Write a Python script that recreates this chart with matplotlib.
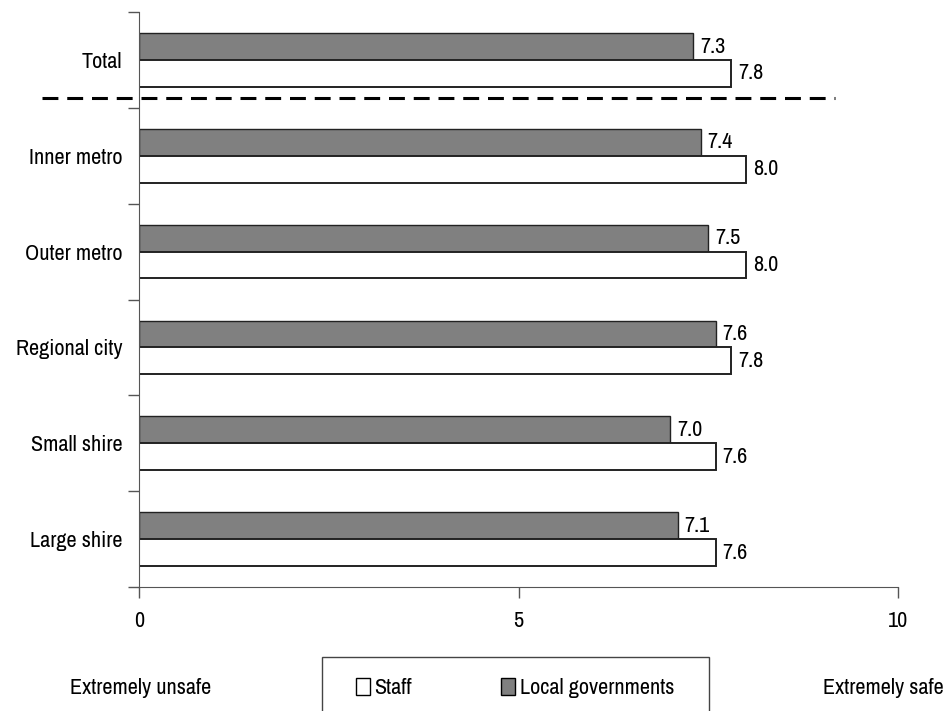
import matplotlib
matplotlib.use("Agg")
import matplotlib.pyplot as plt
from matplotlib.patches import Patch, Rectangle

# narrow sans, with a plain fallback
plt.rcParams['font.family'] = ['Archivo Narrow', 'Liberation Sans', 'DejaVu Sans']

# data
categories = ["Total", "Inner metro", "Outer metro", "Regional city", "Small shire", "Large shire"]
local_gov = [7.3, 7.4, 7.5, 7.6, 7.0, 7.1]
staff = [7.8, 8.0, 8.0, 7.8, 7.6, 7.6]
xticks = [0, 5, 10]

fig = plt.figure(figsize=(9.48, 7.11), dpi=100)
ax = fig.add_axes([0.1466, 0.1744, 0.8007, 0.8087])

n = len(categories)
ypos = [n - 1 - i for i in range(n)]
h = 0.28
fs = 16

ax.barh([y + h / 2 for y in ypos], local_gov, height=h, color="#808080",
        edgecolor="#222222", linewidth=1.0)
ax.barh([y - h / 2 for y in ypos], staff, height=h, color="white",
        edgecolor="#222222", linewidth=1.4)

# value labels
for y, v in zip(ypos, local_gov):
    ax.text(v + 0.09, y + h / 2, f"{v:.1f}", va="center", ha="left", fontsize=fs)
for y, v in zip(ypos, staff):
    ax.text(v + 0.09, y - h / 2, f"{v:.1f}", va="center", ha="left", fontsize=fs)

# dashed separator below Total
ax.plot([-1.28, 9.17], [4.6, 4.6], color="black", lw=2.2, dashes=(5.2, 2.9),
        clip_on=False)

ax.set_xlim(0, 10)
ax.set_ylim(-0.5, n - 0.5)
ax.set_xticks(xticks)
ax.set_xticklabels([str(t) for t in xticks], fontsize=fs)
ax.set_yticks(ypos)
ax.set_yticklabels(categories, fontsize=fs)
ax.set_yticks([i - 0.5 for i in range(n + 1)], minor=True)
ax.tick_params(axis="y", which="major", length=0, pad=12)
ax.tick_params(axis="y", which="minor", length=8, width=1, color="#555555", direction="out")
ax.tick_params(axis="x", length=8, width=1, color="#555555", direction="out", pad=9)

for s in ["top", "right"]:
    ax.spines[s].set_visible(False)
ax.spines["left"].set_color("#555555")
ax.spines["bottom"].set_color("#555555")

fig.text(70 / 948, 1 - 688 / 711, "Extremely unsafe", fontsize=fs, ha="left", va="center")
fig.text(944 / 948, 1 - 688 / 711, "Extremely safe", fontsize=fs, ha="right", va="center")

# legend box runs off the bottom edge
fig.patches.append(Rectangle((322 / 948, -0.05), 387 / 948, 0.05 + (711 - 657) / 711,
                             transform=fig.transFigure, fill=False,
                             edgecolor="#444444", linewidth=1.0))
handles = [Patch(facecolor="white", edgecolor="black", label="Staff"),
           Patch(facecolor="#808080", edgecolor="black", label="Local governments")]
fig.legend(handles=handles, loc="center", bbox_to_anchor=(515 / 948, 1 - 688 / 711),
           ncol=2, frameon=False, fontsize=fs, handlelength=0.65, handleheight=0.85,
           handletextpad=0.2, columnspacing=4.0)

fig.savefig("out.png", dpi=100)
